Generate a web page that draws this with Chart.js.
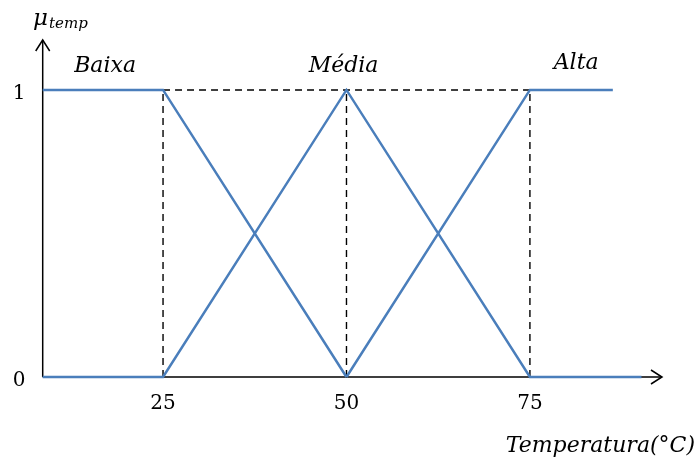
<!DOCTYPE html>
<html>
<head>
<meta charset="utf-8">
<script src="https://cdn.jsdelivr.net/npm/chart.js@4/dist/chart.umd.min.js"></script>
<style>
  html, body { margin: 0; padding: 0; background: #ffffff; }
  #wrap { width: 697px; height: 467px; }
</style>
</head>
<body>
<div id="wrap"><canvas id="c" width="697" height="467"></canvas></div>
<script>
// Temperature domain shown on the horizontal axis
const xStart = 8.6;
const xEnd = 93;
const breakpoints = [25, 50, 75];
const tickLabels = ['25', '50', '75'];
const yTickValues = [0, 1];
const yTickLabels = ['0', '1'];

// Membership functions (temperature, degree)
const baixaX = [8.6, 25, 50];
const baixaY = [1, 1, 0];
const mediaX = [8.6, 25, 50, 75, 90.2];
const mediaY = [0, 0, 1, 0, 0];
const altaX = [50, 75, 86.3];
const altaY = [0, 1, 1];

const setNames = ['Baixa', 'Média', 'Alta'];
const setLabelX = [17.1, 49.6, 81.3];
const setLabelBase = [72, 72, 69];

const toPts = (xs, ys) => xs.map((x, i) => ({ x: x, y: ys[i] }));

const BLUE = '#4a7ebb';
const dash = { borderColor: '#000', borderWidth: 1.4, borderDash: [7, 5], pointRadius: 0, fill: false, order: 5 };

const guideSets = breakpoints.map(b => Object.assign({ data: [{ x: b, y: 0 }, { x: b, y: 1 }] }, dash));
guideSets.push(Object.assign({ data: [{ x: 25, y: 1 }, { x: 75, y: 1 }] }, dash));

const serif = '"DejaVu Serif", "Liberation Serif", serif';

const axesPlugin = {
  id: 'axes',
  beforeDatasetsDraw(chart) {
    const ctx = chart.ctx;
    const xs = chart.scales.x, ys = chart.scales.y;
    const x0 = xs.getPixelForValue(xStart);
    const y0 = ys.getPixelForValue(0);
    const xR = xs.getPixelForValue(xEnd);
    const yT = ys.top;
    ctx.save();
    ctx.strokeStyle = '#000';
    ctx.lineWidth = 1.5;
    ctx.beginPath();
    ctx.moveTo(x0, y0); ctx.lineTo(xR, y0);
    ctx.moveTo(x0, y0); ctx.lineTo(x0, yT);
    ctx.stroke();
    // open arrow heads
    ctx.beginPath();
    ctx.moveTo(xR - 11, y0 - 7); ctx.lineTo(xR, y0); ctx.lineTo(xR - 11, y0 + 7);
    ctx.moveTo(x0 - 7, yT + 11); ctx.lineTo(x0, yT); ctx.lineTo(x0 + 7, yT + 11);
    ctx.stroke();
    ctx.restore();
  },
  afterDraw(chart) {
    const ctx = chart.ctx;
    const xs = chart.scales.x, ys = chart.scales.y;
    const y0 = ys.getPixelForValue(0);
    ctx.save();
    ctx.fillStyle = '#000';
    ctx.font = '20px ' + serif;
    ctx.textAlign = 'center';
    ctx.textBaseline = 'alphabetic';
    breakpoints.forEach((b, i) => ctx.fillText(tickLabels[i], xs.getPixelForValue(b), y0 + 32));
    yTickValues.forEach((v, i) => ctx.fillText(yTickLabels[i], 19, ys.getPixelForValue(v) + 9));
    ctx.font = 'italic 22px ' + serif;
    setNames.forEach((n, i) => ctx.fillText(n, xs.getPixelForValue(setLabelX[i]), setLabelBase[i]));
    ctx.textAlign = 'right';
    ctx.fillText('Temperatura(°C)', 695, 452);
    ctx.textAlign = 'left';
    ctx.font = 'italic 23px ' + serif;
    ctx.fillText('μ', 33, 25);
    ctx.font = 'italic 15px ' + serif;
    ctx.fillText('temp', 49, 28);
    ctx.restore();
  }
};

new Chart(document.getElementById('c'), {
  type: 'line',
  data: {
    datasets: [
      { data: toPts(baixaX, baixaY), borderColor: BLUE, borderWidth: 2.5, pointRadius: 0, fill: false, order: 1 },
      { data: toPts(mediaX, mediaY), borderColor: BLUE, borderWidth: 2.5, pointRadius: 0, fill: false, order: 1 },
      { data: toPts(altaX, altaY), borderColor: BLUE, borderWidth: 2.5, pointRadius: 0, fill: false, order: 1 },
      ...guideSets
    ]
  },
  options: {
    responsive: false,
    animation: false,
    clip: false,
    layout: { padding: { left: 42.7, right: 35, top: 40, bottom: 90 } },
    plugins: { legend: { display: false }, tooltip: { enabled: false } },
    scales: {
      x: { type: 'linear', min: xStart, max: xEnd, display: false },
      y: { type: 'linear', min: 0, max: 1.174, display: false }
    }
  },
  plugins: [axesPlugin]
});
</script>
</body>
</html>
